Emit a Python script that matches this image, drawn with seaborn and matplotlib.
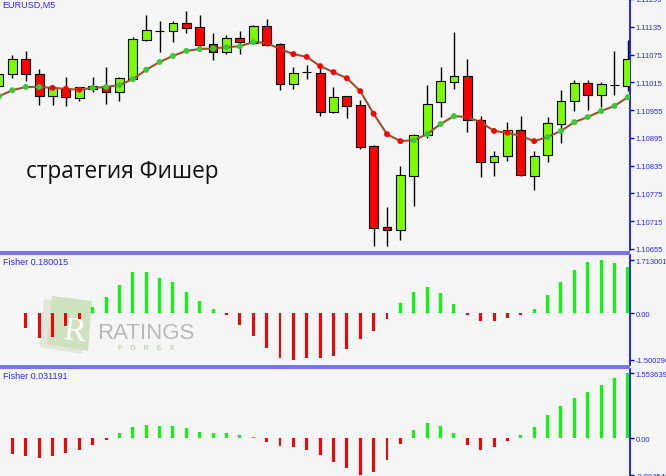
import numpy as np
import pandas as pd
import seaborn as sns
import matplotlib.pyplot as plt
from matplotlib.patches import Polygon, Rectangle

# EURUSD M5 candles
opens = [1.11007, 1.11033, 1.11065, 1.11033, 1.10985, 1.11001, 1.10981, 1.11001, 1.11007, 1.10994,
         1.11022, 1.11106, 1.11126, 1.11126, 1.11143, 1.11135, 1.11098, 1.11081, 1.11111, 1.11100,
         1.11137, 1.11098, 1.11011, 1.11037, 1.11035, 1.10951, 1.10985, 1.10966, 1.10877, 1.10703,
         1.10696, 1.10813, 1.10901, 1.10973, 1.11016, 1.11029, 1.10934, 1.10843, 1.10856, 1.10912,
         1.10813, 1.10858, 1.10925, 1.10975, 1.11014, 1.10988, 1.11009, 1.11007]
highs = [1.11044, 1.11074, 1.11083, 1.11044, 1.11007, 1.11027, 1.11005, 1.11027, 1.11048, 1.11027,
         1.11113, 1.11160, 1.11147, 1.11147, 1.11169, 1.11160, 1.11122, 1.11117, 1.11126, 1.11139,
         1.11152, 1.11100, 1.11048, 1.11052, 1.11052, 1.11005, 1.10985, 1.10977, 1.10880, 1.10746,
         1.10834, 1.10903, 1.11009, 1.11048, 1.11124, 1.11065, 1.10942, 1.10867, 1.10929, 1.10942,
         1.10867, 1.10940, 1.10998, 1.11020, 1.11020, 1.11016, 1.11083, 1.11106]
lows = [1.10996, 1.11024, 1.11018, 1.10966, 1.10966, 1.10964, 1.10975, 1.10994, 1.10968, 1.10975,
        1.11018, 1.11104, 1.11081, 1.11102, 1.11122, 1.11093, 1.11063, 1.11076, 1.11076, 1.11098,
        1.11093, 1.10998, 1.11001, 1.11022, 1.10942, 1.10949, 1.10938, 1.10871, 1.10661, 1.10661,
        1.10674, 1.10748, 1.10895, 1.10940, 1.11001, 1.10908, 1.10811, 1.10813, 1.10845, 1.10813,
        1.10782, 1.10843, 1.10884, 1.10953, 1.10955, 1.10962, 1.10988, 1.10996]
closes = [1.11033, 1.11065, 1.11033, 1.10985, 1.11003, 1.10983, 1.11005, 1.11007, 1.10994, 1.11024,
          1.11109, 1.11128, 1.11126, 1.11143, 1.11132, 1.11096, 1.11081, 1.11111, 1.11102, 1.11137,
          1.11096, 1.11011, 1.11035, 1.11037, 1.10951, 1.10983, 1.10964, 1.10875, 1.10700, 1.10696,
          1.10815, 1.10901, 1.10968, 1.11018, 1.11029, 1.10934, 1.10843, 1.10856, 1.10912, 1.10815,
          1.10856, 1.10927, 1.10975, 1.11014, 1.10988, 1.11011, 1.11009, 1.11065]
ma = [1.10985, 1.10998, 1.11005, 1.11005, 1.11003, 1.11001, 1.10999, 1.11003, 1.11005, 1.11009,
      1.11022, 1.11042, 1.11059, 1.11072, 1.11083, 1.11087, 1.11088, 1.11091, 1.11093, 1.11102,
      1.11100, 1.11087, 1.11076, 1.11070, 1.11050, 1.11037, 1.11024, 1.10996, 1.10947, 1.10903,
      1.10888, 1.10890, 1.10903, 1.10925, 1.10942, 1.10940, 1.10929, 1.10910, 1.10906, 1.10899,
      1.10888, 1.10897, 1.10910, 1.10929, 1.10940, 1.10953, 1.10964, 1.10983]

fisher1 = [0.35, 0.02, -0.47, -0.80, -0.77, -0.42, -0.18, 0.19, 0.51, 0.91,
           1.32, 1.32, 1.13, 1.00, 0.70, 0.38, 0.14, -0.07, -0.38, -0.72,
           -1.13, -1.45, -1.500296, -1.43, -1.43, -1.36, -1.15, -0.83, -0.56, -0.18,
           0.33, 0.70, 0.86, 0.65, 0.30, -0.07, -0.26, -0.24, -0.16, -0.07,
           0.14, 0.59, 1.02, 1.39, 1.64, 1.713001, 1.62, 1.50]
fisher2 = [-0.30, -0.38, -0.44, -0.49, -0.44, -0.37, -0.28, -0.16, -0.05, 0.12,
           0.26, 0.31, 0.30, 0.28, 0.24, 0.15, 0.12, 0.12, 0.08, 0.02,
           -0.09, -0.18, -0.21, -0.29, -0.42, -0.58, -0.73, -0.894546, -0.82, -0.54,
           -0.14, 0.19, 0.36, 0.30, 0.12, -0.16, -0.29, -0.21, -0.06, 0.07,
           0.27, 0.55, 0.78, 0.96, 1.10, 1.28, 1.44, 1.553639]

price_ticks = [1.10655, 1.10715, 1.10775, 1.10835, 1.10895, 1.10955, 1.11015, 1.11075, 1.11135, 1.11195]
fisher1_ticks = [-1.500296, 0.0, 1.713001]
fisher1_labels = ['-1.500296', '0.00', '1.713001']
fisher2_ticks = [-0.894546, 0.0, 1.553639]
fisher2_labels = ['-0.894546', '0.00', '1.553639']

W, H = 666, 477
BG = '#f5f5f5'
BLUE = '#2a2aff'

sns.set_style('white', {'axes.facecolor': BG, 'figure.facecolor': BG})
plt.rcParams['font.family'] = ['Liberation Sans', 'DejaVu Sans']

fig = plt.figure(figsize=(W / 100, H / 100), dpi=100)


def box(top, bottom):
    return [0, 1 - bottom / H, 630 / W, (bottom - top) / H]


def fp(x, y):
    return (x / W, 1 - y / H)


ax = fig.add_axes(box(0, 251))
ax1 = fig.add_axes(box(256, 366))
ax2 = fig.add_axes(box(370, 477))

idx = np.arange(len(opens))
df = pd.DataFrame({'i': idx, 'open': opens, 'high': highs, 'low': lows,
                   'close': closes, 'ma': ma})
df['kind'] = np.where(df.close > df.open, 'up', np.where(df.close < df.open, 'down', 'flat'))
body_colors = df.kind.map({'up': '#7cfc00', 'down': '#ff0000', 'flat': 'black'})

# candles
ax.vlines(df.i, df.low, df.high, color='black', lw=1, zorder=2)
ax.bar(df.i, (df.close - df.open).abs(), bottom=df[['open', 'close']].min(axis=1),
       width=0.66, color=body_colors, edgecolor='black', linewidth=0.8, zorder=3)

# moving average with coloured dots
df['dir'] = np.where(df.ma.diff().fillna(1) >= 0, 'up', 'down')
sns.lineplot(data=df, x='i', y='ma', color='#a0522d', lw=1.5, ax=ax, zorder=4)
sns.scatterplot(data=df, x='i', y='ma', hue='dir', palette={'up': '#33cc33', 'down': '#ff0000'},
                s=18, edgecolor='none', legend=False, ax=ax, zorder=5)
ax.set_ylim(1.106528, 1.11195)
ax.set_yticks(price_ticks)
ax.set_yticklabels([f'{p:.5f}' for p in price_ticks])


def fisher_panel(a, vals, ticks, labels, ylim):
    d = pd.DataFrame({'i': idx, 'v': vals})
    d['s'] = np.where(d.v >= 0, 'up', 'down')
    sns.barplot(data=d, x='i', y='v', hue='s', palette={'up': '#00ff00', 'down': '#ff0000'},
                native_scale=True, width=0.22, dodge=False, saturation=1, linewidth=0,
                legend=False, errorbar=None, ax=a, zorder=2)
    a.set_ylim(*ylim)
    a.set_yticks(ticks)
    a.set_yticklabels(labels)


fisher_panel(ax1, fisher1, fisher1_ticks, fisher1_labels, (-1.662, 1.875))
fisher_panel(ax2, fisher2, fisher2_ticks, fisher2_labels, (-0.913, 1.659))

for a in (ax, ax1, ax2):
    a.set_xlim(0.075, 47.16)
    a.set_xlabel('')
    a.set_ylabel('')
    a.set_xticks([])
    for s in ('top', 'left', 'bottom'):
        a.spines[s].set_visible(False)
    a.spines['right'].set_color('#0000ff')
    a.spines['right'].set_linewidth(1.2)
    a.yaxis.tick_right()
    a.tick_params(axis='y', direction='out', length=3, width=1, colors='#0000ff',
                  labelcolor=BLUE, labelsize=5.5, pad=1)

# panel separators
for top in (252, 366):
    fig.add_artist(Rectangle(fp(0, top + 4), 630 / W, 4 / H, transform=fig.transFigure,
                             color='#7373ff', lw=0))

# watermark (drawn under the fisher bars)
back = Polygon([fp(44, 300), fp(86, 305), fp(82, 355), fp(40, 348)], closed=True,
               transform=fig.transFigure, facecolor='#e2e6dc', edgecolor='none', zorder=0.5)
front = Polygon([fp(52, 297), fp(92, 302), fp(88, 352), fp(47, 345)], closed=True,
                transform=fig.transFigure, facecolor='#cfe2bf', edgecolor='none', zorder=0.6)
ax1.add_patch(back)
ax1.add_patch(front)
ax1.text(*fp(74, 332), 'R', transform=fig.transFigure, ha='center', va='center',
         fontsize=24, family='Liberation Serif', color='white', rotation=-6, zorder=0.7)
ax1.text(*fp(97, 339), 'RATINGS', transform=fig.transFigure, ha='left', va='baseline',
         fontsize=16, family=['Liberation Sans Narrow', 'Liberation Sans'], color='#b9b9b9',
         zorder=0.7)
ax1.text(*fp(146, 350), 'F    O    R    E    X', transform=fig.transFigure, ha='center',
         va='baseline', fontsize=5, fontweight='bold', color='#c5cdbd', zorder=0.7)

# labels
fig.text(*fp(2, 1), 'EURUSD,M5', va='top', fontsize=6.5, color=BLUE)
fig.text(*fp(3, 258), 'Fisher 0.180015', va='top', fontsize=6.5, color=BLUE)
fig.text(*fp(3, 372), 'Fisher 0.031191', va='top', fontsize=6.5, color=BLUE)
fig.text(*fp(26, 178), 'стратегия Фишер', va='baseline', fontsize=16.3,
         family=['Open Sans', 'DejaVu Sans'], color='#111111')

fig.savefig('out.png', dpi=100, facecolor=BG)
